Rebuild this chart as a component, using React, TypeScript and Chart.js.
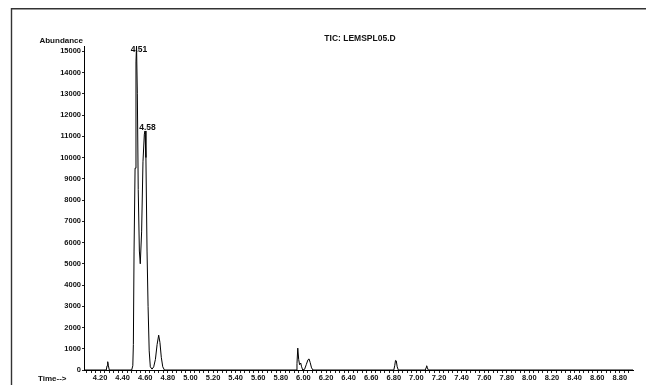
import React, { useEffect, useRef } from "react";
import { Chart, registerables } from "chart.js";

Chart.register(...registerables);

// Retention time (min) of each sampled point of the TIC trace
const times = [
  4.058, 4.255, 4.262, 4.268, 4.274, 4.282,
  4.48, 4.49, 4.495, 4.501, 4.51, 4.518, 4.523, 4.53, 4.538, 4.548, 4.556, 4.568, 4.58, 4.592,
  4.598, 4.606, 4.616, 4.625, 4.635, 4.645, 4.66, 4.675, 4.69, 4.705, 4.719, 4.73, 4.742, 4.755, 4.77,
  5.935, 5.943, 5.95, 5.958, 5.966, 5.976, 5.984, 5.994, 6.01, 6.025, 6.04, 6.05, 6.06, 6.072, 6.085,
  6.8, 6.808, 6.815, 6.822, 6.83, 6.84,
  7.08, 7.086, 7.091, 7.097, 7.105,
  8.917,
];
// Abundance at each of those times
const abundance = [
  0, 0, 200, 390, 200, 0,
  0, 200, 1200, 5600, 9500, 14500, 15250, 13000, 8500, 5600, 5000, 6500, 9800, 11100,
  11250, 10000, 5600, 3000, 900, 150, 40, 150, 500, 1200, 1640, 1300, 600, 150, 0,
  0, 300, 1030, 500, 250, 330, 150, 0, 30, 250, 480, 520, 350, 100, 0,
  0, 200, 450, 430, 150, 0,
  0, 120, 200, 100, 0,
  0,
];

// Peak annotations
const peakLabels = ["4.51", "4.58"];
const peakTimes = [4.523, 4.598];
const peakHeights = [15250, 11250];

// Axis tick values
const yTickValues = [0, 1000, 2000, 3000, 4000, 5000, 6000, 7000, 8000, 9000, 10000, 11000, 12000, 13000, 14000, 15000];

const title = "TIC: LEMSPL05.D";
const yTitle = "Abundance";
const xTitle = "Time-->";

const X_MIN = 4.058;
const X_MAX = 8.917;
const Y_MAX = 15250;

const FONT = "'Liberation Sans', Arial, sans-serif";

const decorPlugin = {
  id: "decor",
  afterDraw(chart: any) {
    const ctx = chart.ctx as CanvasRenderingContext2D;
    const xs = chart.scales.x;
    const ys = chart.scales.y;
    ctx.save();
    // frame
    ctx.strokeStyle = "#333";
    ctx.lineWidth = 1.4;
    ctx.beginPath();
    ctx.moveTo(11.5, 385);
    ctx.lineTo(11.5, 8.8);
    ctx.lineTo(646, 8.8);
    ctx.stroke();

    ctx.fillStyle = "#111";
    ctx.textBaseline = "middle";
    ctx.font = `bold 8px ${FONT}`;
    ctx.textAlign = "right";
    ctx.fillText(yTitle, 83, 41);
    ctx.textAlign = "left";
    ctx.fillText(xTitle, 38, 379);
    ctx.textAlign = "center";
    ctx.font = `bold 8.5px ${FONT}`;
    ctx.fillText(title, 360, 39);

    ctx.font = `bold 8.5px ${FONT}`;
    for (let i = 0; i < peakLabels.length; i++) {
      const px = xs.getPixelForValue(peakTimes[i]);
      const py = ys.getPixelForValue(peakHeights[i]);
      ctx.fillText(peakLabels[i], px + 2.5, Math.max(py - 3, 50));
    }
    ctx.restore();
  },
};

export default function App() {
  const ref = useRef<HTMLCanvasElement>(null);
  useEffect(() => {
    if (!ref.current) return;
    const data = times.map((t, i) => ({ x: t, y: abundance[i] }));
    const chart = new Chart(ref.current, {
      type: "line",
      data: {
        datasets: [
          {
            data,
            borderColor: "#000",
            borderWidth: 1,
            pointRadius: 0,
            tension: 0,
            fill: false,
            clip: false as any,
          },
        ],
      },
      options: {
        animation: false,
        responsive: false,
        maintainAspectRatio: false,
        layout: { padding: { left: 0, right: 13, top: 46, bottom: 0 } },
        plugins: { legend: { display: false }, tooltip: { enabled: false }, title: { display: false } },
        scales: {
          x: {
            type: "linear",
            min: X_MIN,
            max: X_MAX,
            afterBuildTicks: (scale: any) => {
              const t: any[] = [];
              for (let i = 102; i <= 222; i++) t.push({ value: i * 0.04 });
              scale.ticks = t;
            },
            afterFit: (scale: any) => {
              scale.height = 15;
            },
            ticks: {
              autoSkip: false,
              maxRotation: 0,
              padding: 0,
              color: "#111",
              font: { family: FONT, size: 7.5, weight: "bold" },
              callback: (v: any) => {
                const k = Math.round(Number(v) / 0.04);
                return k % 5 === 0 ? (k * 0.04).toFixed(2) : "";
              },
            },
            grid: { display: true, drawOnChartArea: false, drawTicks: true, tickLength: 3, color: "#000", tickColor: "#222" },
            border: { display: true, color: "#000", width: 1 },
          },
          y: {
            type: "linear",
            min: 0,
            max: Y_MAX,
            afterBuildTicks: (scale: any) => {
              scale.ticks = yTickValues.map((v) => ({ value: v }));
            },
            afterFit: (scale: any) => {
              scale.width = 84;
            },
            ticks: {
              autoSkip: false,
              padding: 1,
              color: "#111",
              font: { family: FONT, size: 7.5, weight: "bold" },
              callback: (v: any) => String(v),
            },
            grid: { display: true, drawOnChartArea: false, drawTicks: true, tickLength: 2, color: "#000", tickColor: "#222" },
            border: { display: true, color: "#000", width: 1 },
          },
        },
      },
      plugins: [decorPlugin],
    });
    return () => chart.destroy();
  }, []);
  return (
    <div style={{ position: "fixed", left: 0, top: 0, width: 646, height: 385, background: "#fff" }}>
      <canvas ref={ref} width={646} height={385} style={{ display: "block", width: 646, height: 385 }} />
    </div>
  );
}
